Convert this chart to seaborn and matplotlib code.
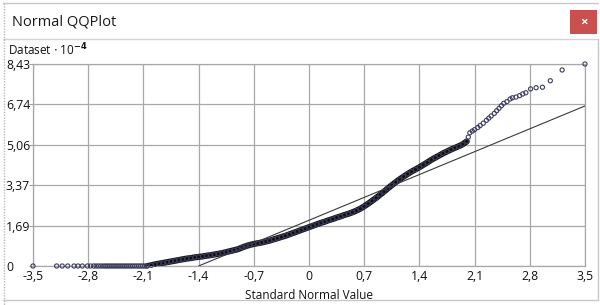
import matplotlib
matplotlib.use("Agg")
import matplotlib.pyplot as plt
import seaborn as sns
import numpy as np
import pandas as pd
from matplotlib.lines import Line2D
from matplotlib.patches import Rectangle

# ---- data (values in units of 1e-4) ----
# lower tail: theoretical quantiles and sample values (all ~0)
q_low = [-3.5, -3.2, -3.13, -3.06, -2.98, -2.93, -2.875, -2.81, -2.77, -2.73,
         -2.70, -2.67, -2.64, -2.61, -2.585, -2.56, -2.535, -2.51, -2.485,
         -2.46, -2.435, -2.41, -2.385, -2.36, -2.335, -2.31, -2.285, -2.26,
         -2.235, -2.21, -2.185, -2.16, -2.135, -2.11, -2.085, -2.06]
v_low = [0.0] * len(q_low)

# dense central part
q_mid = [-2.05, -2.00, -1.95, -1.90, -1.85, -1.80, -1.75, -1.70, -1.65, -1.60,
         -1.55, -1.50, -1.45, -1.40, -1.35, -1.30, -1.25, -1.20, -1.15, -1.10,
         -1.05, -1.00, -0.95, -0.90, -0.85, -0.80, -0.75, -0.70, -0.65, -0.60,
         -0.55, -0.50, -0.45, -0.40, -0.35, -0.30, -0.25, -0.20, -0.15, -0.10,
         -0.05, 0.00, 0.05, 0.10, 0.15, 0.20, 0.25, 0.30, 0.35, 0.40,
         0.45, 0.50, 0.55, 0.60, 0.65, 0.70, 0.75, 0.80, 0.85, 0.90,
         0.95, 1.00, 1.05, 1.10, 1.15, 1.20, 1.25, 1.30, 1.35, 1.40,
         1.45, 1.50, 1.55, 1.60, 1.65, 1.70, 1.75, 1.80, 1.85, 1.90,
         1.95, 2.00]
v_mid = [0.00, 0.03, 0.07, 0.10, 0.13, 0.16, 0.19, 0.22, 0.25, 0.28,
         0.31, 0.33, 0.36, 0.38, 0.40, 0.43, 0.45, 0.48, 0.51, 0.54,
         0.58, 0.62, 0.66, 0.70, 0.77, 0.83, 0.88, 0.92, 0.95, 0.98,
         1.02, 1.06, 1.11, 1.16, 1.21, 1.26, 1.32, 1.38, 1.44, 1.50,
         1.56, 1.62, 1.68, 1.74, 1.80, 1.85, 1.91, 1.96, 2.02, 2.07,
         2.13, 2.18, 2.24, 2.31, 2.39, 2.49, 2.60, 2.72, 2.84, 2.97,
         3.10, 3.24, 3.37, 3.50, 3.62, 3.73, 3.84, 3.94, 4.03, 4.12,
         4.22, 4.32, 4.43, 4.52, 4.61, 4.70, 4.78, 4.86, 4.93, 5.00,
         5.08, 5.20]

# upper tail
q_high = [2.02, 2.04, 2.07, 2.10, 2.14, 2.17, 2.21, 2.25, 2.28, 2.31, 2.35,
          2.38, 2.41, 2.44, 2.47, 2.51, 2.55, 2.58, 2.625, 2.67, 2.71, 2.75,
          2.81, 2.88, 2.96, 3.06, 3.21, 3.5]
v_high = [5.38, 5.56, 5.63, 5.69, 5.78, 5.86, 5.96, 6.08, 6.17, 6.26, 6.37,
          6.48, 6.58, 6.69, 6.79, 6.86, 6.97, 7.02, 7.05, 7.11, 7.18, 7.23,
          7.39, 7.44, 7.46, 7.73, 8.18, 8.43]

# reference normal line
line_q = [-1.4, 3.5]
line_v = [0.0, 6.68]

x_ticks = [-3.5, -2.8, -2.1, -1.4, -0.7, 0, 0.7, 1.4, 2.1, 2.8, 3.5]
x_labels = ["-3,5", "-2,8", "-2,1", "-1,4", "-0,7", "0", "0,7", "1,4", "2,1", "2,8", "3,5"]
y_ticks = [0, 1.69, 3.37, 5.06, 6.74, 8.43]
y_labels = ["0", "1,69", "3,37", "5,06", "6,74", "8,43"]

# ---- figure ----
sns.set_theme(style="white")
FONT = ["Open Sans", "DejaVu Sans"]
plt.rcParams["font.family"] = FONT

W, H = 600, 305
fig = plt.figure(figsize=(W / 100, H / 100), dpi=100, facecolor="white")

def fx(px):
    return px / W

def fy(py):
    return 1 - py / H

# window chrome
fig.add_artist(Line2D([fx(3), fx(598)], [fy(3), fy(3)], color="#c8c8c8", lw=1))
fig.add_artist(Line2D([fx(3), fx(598)], [fy(39), fy(39)], color="#d4d4d4", lw=1))
fig.add_artist(Line2D([fx(3.5), fx(3.5)], [fy(3), fy(305)], color="#b8b8b8", lw=1, ls=(0, (1, 1))))
fig.add_artist(Line2D([fx(597.5), fx(597.5)], [fy(39), fy(300)], color="#c8c8c8", lw=1))
fig.add_artist(Line2D([fx(3), fx(598)], [fy(300), fy(300)], color="#c8c8c8", lw=1))
fig.add_artist(Rectangle((fx(570), fy(34)), fx(27), 24 / H, color="#c9504f", lw=0))
fig.text(fx(583.5), fy(22), "×", color="white", ha="center", va="center",
         fontsize=9.5, fontweight="bold")
fig.text(fx(12), fy(22), "Normal QQPlot", ha="left", va="center",
         fontsize=10.5, color="#1a1a1a")
fig.text(fx(8), fy(50), r"Dataset $\cdot$ 10$^{\mathbf{-4}}$", ha="left", va="center",
         fontsize=8.5, color="#111111")

ax = fig.add_axes([fx(33), fy(266), (585 - 33) / W, (266 - 64) / H])
ax.set_facecolor("white")

# dense core drawn as a thick line of overlapping markers
sns.lineplot(x=q_mid, y=v_mid, ax=ax, sort=False, estimator=None,
             color="#101010", linewidth=4.4, zorder=3)
# reference line
sns.lineplot(x=line_q, y=line_v, ax=ax, sort=False, estimator=None,
             color="#3a3a3a", linewidth=0.8, zorder=4)

pts = pd.DataFrame({"q": q_low + q_mid + q_high, "v": v_low + v_mid + v_high})
sns.scatterplot(data=pts, x="q", y="v", ax=ax, marker="o", s=9,
                color="#3c3c5c", linewidth=0.8, zorder=5, clip_on=False)
coll = ax.collections[-1]
coll.set_facecolor("none")
coll.set_edgecolor("#3c3c5c")

ax.set_xlim(-3.5, 3.5)
ax.set_ylim(0, 8.43)
ax.set_xticks(x_ticks)
ax.set_xticklabels(x_labels)
ax.set_yticks(y_ticks)
ax.set_yticklabels(y_labels)
ax.grid(True, color="#a8a8a8", linewidth=0.9)
ax.set_axisbelow(True)
for s in ax.spines.values():
    s.set_color("#a8a8a8")
    s.set_linewidth(0.9)
ax.tick_params(axis="y", length=3, width=0.8, color="#a0a0a0", pad=16.5,
               labelsize=8.8, labelcolor="#111111", left=True)
ax.tick_params(axis="x", length=0, pad=3, labelsize=8.8, labelcolor="#111111")
for lab in ax.get_yticklabels():
    lab.set_horizontalalignment("left")
ax.set_xlabel("Standard Normal Value", fontsize=8.5, color="#111111", labelpad=4)
ax.set_ylabel("")

fig.savefig("out.png", dpi=100, facecolor="white")
